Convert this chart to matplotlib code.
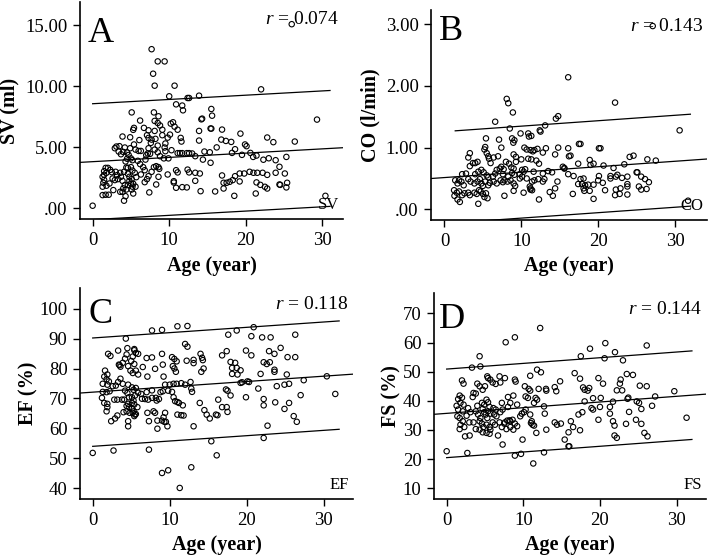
import numpy as np
import matplotlib
matplotlib.use("Agg")
import matplotlib.pyplot as plt
from matplotlib.ticker import FuncFormatter

plt.rcParams['font.family'] = ['Liberation Serif', 'DejaVu Serif']
plt.rcParams['mathtext.fontset'] = 'custom'
plt.rcParams['mathtext.it'] = 'Liberation Serif:italic'
plt.rcParams['mathtext.rm'] = 'Liberation Serif'

# (age, value) pairs
sv_points = [
    (0, 0.22), (26.0, 15.1), (7.7, 13.05), (8.5, 12.05), (9.4, 12.05), (7.9, 11.04), (8.1, 10.06), (10.7, 10.06),
    (22.0, 9.76), (10.0, 9.19), (12.4, 9.05), (12.6, 9.05), (13.9, 9.24), (10.9, 8.53), (11.7, 8.43), (11.8, 8.04),
    (15.5, 8.15), (15.6, 7.6), (5.1, 7.87), (8.0, 7.87), (8.6, 7.55), (6.2, 7.2), (8.1, 7.17), (8.5, 7.0), (8.8, 6.8),
    (9.1, 6.45), (10.2, 6.95), (10.5, 7.06), (10.7, 6.7), (14.2, 7.3), (14.3, 7.36), (6.7, 6.6), (7.3, 6.4), (5.3, 6.44),
    (5.4, 6.6), (8.1, 6.35), (11.1, 6.45), (9.1, 6.0), (10.1, 6.05), (13.9, 6.35), (15.4, 6.55), (3.9, 5.89), (4.9, 5.83),
    (6.1, 5.6), (7.1, 6.0), (7.3, 5.78), (7.7, 5.64), (8.2, 5.7), (9.8, 5.8), (11.5, 5.78), (11.6, 5.48), (13.9, 5.56),
    (7.6, 5.37), (8.5, 5.15), (9.5, 5.32), (5.4, 5.24), (3.1, 5.07), (2.9, 4.93), (3.5, 5.1), (4.2, 4.99), (4.9, 4.93),
    (5.6, 4.82), (4.0, 4.63), (4.5, 4.58), (4.7, 4.38), (3.4, 4.66), (3.7, 4.44), (6.0, 4.71), (6.3, 4.71), (7.3, 4.93),
    (8.1, 4.82), (8.5, 4.6), (9.4, 4.99), (9.5, 4.69), (10.3, 4.77), (11.1, 4.53), (11.4, 4.53), (11.7, 4.53), (12.3, 4.53),
    (12.6, 4.53), (7.2, 4.5), (7.5, 4.47), (8.8, 4.28), (9.3, 4.1), (9.9, 4.1), (5.0, 4.1), (5.2, 3.95), (4.5, 4.07),
    (4.3, 3.85), (5.9, 3.9), (6.2, 3.63), (7.0, 4.36), (6.9, 4.0), (13.4, 4.28), (14.6, 4.66), (15.4, 3.74), (1.7, 3.32),
    (2.0, 3.32), (2.3, 3.16), (1.5, 3.05), (1.8, 2.92), (1.5, 2.75), (2.5, 2.97), (3.0, 3.0), (3.2, 2.73), (3.6, 2.92),
    (4.1, 3.0), (4.4, 3.35), (4.6, 3.32), (5.0, 3.38), (5.2, 3.1), (4.6, 2.84), (4.8, 2.59), (5.1, 2.4), (5.5, 2.92),
    (5.7, 2.56), (1.3, 2.59), (1.5, 2.34), (1.4, 2.1), (1.3, 1.78), (1.8, 1.86), (2.2, 2.04), (2.6, 2.45), (2.9, 2.32),
    (3.3, 2.4), (3.7, 2.59), (3.9, 2.26), (4.2, 1.91), (4.6, 1.91), (4.0, 1.64), (4.8, 2.26), (5.0, 2.04), (5.2, 1.78),
    (5.1, 1.55), (5.3, 2.02), (5.6, 1.78), (3.6, 1.36), (3.9, 1.36), (4.4, 1.55), (1.3, 1.09), (1.7, 1.12), (2.1, 1.12),
    (2.7, 1.5), (5.3, 1.22), (4.3, 1.0), (4.1, 0.63), (6.3, 2.78), (6.6, 3.38), (6.8, 3.13), (7.3, 2.64), (7.1, 2.4),
    (7.7, 3.0), (8.0, 3.38), (8.3, 3.46), (8.6, 3.38), (8.7, 3.24), (6.8, 2.15), (7.4, 1.31), (8.6, 2.59), (8.3, 1.96),
    (9.8, 2.78), (10.9, 3.13), (11.1, 2.95), (12.4, 3.18), (12.6, 2.95), (10.6, 2.23), (10.6, 2.12), (10.9, 1.69),
    (11.7, 1.74), (12.3, 1.72), (13.4, 2.92), (14.0, 2.86), (13.4, 2.26), (14.1, 1.41),
    (15.5, 6.54), (16.9, 6.46), (16.8, 5.64), (17.4, 5.53), (18.1, 5.45), (19.3, 6.13), (19.9, 5.24), (20.1, 5.1),
    (22.8, 5.81), (23.6, 5.43), (26.4, 5.48), (18.6, 4.85), (18.2, 4.55), (19.5, 4.39), (20.6, 4.55), (20.96, 4.22),
    (21.4, 4.33), (22.3, 3.99), (23.0, 4.11), (23.9, 3.95), (25.3, 4.22), (24.4, 3.41), (16.9, 2.70), (18.6, 2.64),
    (19.2, 2.86), (19.8, 2.86), (20.5, 3.0), (21.0, 2.92), (21.5, 2.92), (22.2, 2.92), (22.8, 2.75), (23.9, 2.92),
    (25.1, 2.86), (17.1, 2.1), (17.5, 2.1), (17.9, 2.18), (18.3, 2.32), (19.2, 2.21), (21.4, 2.13), (21.9, 1.93),
    (22.5, 1.77), (22.8, 1.63), (24.4, 1.96), (24.5, 1.93), (25.4, 2.1), (25.3, 1.72), (16.0, 1.39), (17.1, 1.63),
    (18.5, 1.03), (21.3, 1.22), (30.4, 1.03), (29.3, 7.28), (16.2, 5.0), (15.3, 4.6), (14.4, 4.0), (13.0, 4.5),
]

co_points = [
    (16.1, 2.14), (8.1, 1.79), (8.3, 1.72), (8.9, 1.57), (6.6, 1.42), (8.5, 1.31), (14.5, 1.47), (14.8, 1.51),
    (13.1, 1.36), (12.4, 1.28), (12.5, 1.26), (5.4, 1.15), (7.1, 1.13), (8.8, 1.15), (9.1, 1.12), (8.96, 1.08),
    (9.9, 1.23), (10.9, 1.23), (11.3, 1.19), (10.99, 1.18), (7.4, 1.0), (5.3, 1.01), (5.2, 0.97), (5.5, 0.91),
    (5.7, 0.86), (5.8, 0.82), (3.3, 0.91), (3.1, 0.84), (3.7, 0.75), (4.0, 0.75), (4.3, 0.77), (3.3, 0.70), (6.0, 0.75),
    (6.4, 0.84), (6.97, 0.86), (8.0, 0.77), (8.4, 0.74), (9.0, 0.89), (9.3, 0.85), (10.4, 1.0), (10.7, 0.97),
    (11.2, 0.96), (11.5, 0.94), (11.7, 0.96), (12.1, 0.98), (12.8, 0.92), (13.2, 0.99), (14.8, 1.0), (14.4, 0.89),
    (16.1, 0.99), (16.2, 0.86), (10.0, 0.81), (10.9, 0.82), (11.3, 0.81), (11.95, 0.79), (12.3, 0.74), (9.3, 0.77),
    (8.7, 0.68), (9.0, 0.66), (7.4, 0.69), (7.7, 0.65), (6.8, 0.64), (7.2, 0.66), (10.1, 0.64), (10.3, 0.61),
    (10.5, 0.65), (11.6, 0.61), (12.8, 0.58), (13.5, 0.62), (14.0, 0.6), (15.4, 0.69), (15.6, 0.67), (2.3, 0.57),
    (2.8, 0.58), (4.0, 0.57), (4.4, 0.61), (4.8, 0.64), (5.1, 0.60), (5.5, 0.55), (5.7, 0.52), (6.3, 0.53), (6.6, 0.58),
    (7.6, 0.57), (8.3, 0.53), (8.8, 0.59), (9.1, 0.56), (9.8, 0.57), (1.4, 0.47), (1.9, 0.47), (1.7, 0.42), (2.2, 0.45),
    (2.5, 0.39), (3.1, 0.49), (3.4, 0.45), (3.9, 0.42), (4.3, 0.45), (4.6, 0.49), (4.8, 0.42), (5.0, 0.38), (5.3, 0.45),
    (5.7, 0.39), (5.9, 0.43), (6.4, 0.45), (6.8, 0.42), (7.3, 0.47), (7.6, 0.44), (7.8, 0.47), (8.2, 0.45), (8.6, 0.47),
    (9.0, 0.42), (9.2, 0.38), (9.8, 0.5), (10.1, 0.53), (10.7, 0.5), (11.4, 0.45), (11.2, 0.32), (11.1, 0.37),
    (11.4, 0.31), (11.7, 0.47), (12.2, 0.49), (12.8, 0.45), (13.0, 0.49), (14.7, 0.45), (14.4, 0.34), (14.1, 0.22),
    (1.25, 0.31), (1.6, 0.27), (1.9, 0.29), (1.3, 0.22), (1.7, 0.16), (2.0, 0.12), (2.3, 0.23), (2.6, 0.26), (3.1, 0.27),
    (3.3, 0.23), (3.9, 0.27), (4.2, 0.25), (4.5, 0.31), (4.7, 0.29), (5.0, 0.25), (5.2, 0.2), (5.4, 0.26), (5.6, 0.18),
    (4.4, 0.09), (7.8, 0.22), (9.0, 0.30), (10.3, 0.27), (11.2, 0.34), (12.3, 0.16), (13.7, 0.28),
    (27.1, 2.97), (22.2, 1.73), (30.6, 1.28), (16.4, 0.87), (17.5, 1.06), (17.7, 1.06), (20.1, 0.99), (20.3, 0.99),
    (24.1, 0.85), (24.6, 0.87), (26.4, 0.81), (27.5, 0.79), (17.4, 0.74), (18.9, 0.8), (19.4, 0.74), (19.0, 0.72),
    (20.7, 0.71), (22.0, 0.67), (23.4, 0.73), (15.6, 0.66), (16.1, 0.57), (16.8, 0.54), (17.7, 0.49), (18.1, 0.5),
    (17.4, 0.41), (17.9, 0.41), (18.3, 0.39), (18.1, 0.34), (18.2, 0.3), (18.9, 0.3), (18.7, 0.4), (19.4, 0.4),
    (20.1, 0.54), (20.0, 0.47), (20.6, 0.43), (21.6, 0.54), (21.6, 0.5), (22.3, 0.53), (22.5, 0.56), (23.1, 0.51),
    (23.8, 0.53), (23.8, 0.41), (23.8, 0.37), (25.0, 0.6), (25.1, 0.6), (25.6, 0.53), (26.1, 0.49), (26.6, 0.44),
    (25.3, 0.37), (25.6, 0.32), (26.3, 0.33), (20.9, 0.31), (22.3, 0.32), (22.9, 0.34), (22.2, 0.23), (22.8, 0.25),
    (23.8, 0.24), (19.4, 0.17), (16.7, 0.25), (31.7, 0.14),
]

ef_points = [
    (4.3, 90.0), (7.7, 92.7), (9.0, 92.9), (11.0, 94.1), (12.3, 94.2), (2.0, 84.9), (2.3, 84.2), (3.3, 86.0),
    (4.5, 86.8), (5.4, 86.5), (5.4, 86.1), (5.6, 85.2), (5.9, 84.9), (4.4, 84.7), (4.2, 83.3), (5.2, 84.0), (5.0, 82.5),
    (3.9, 81.9), (3.5, 81.1), (3.4, 81.3), (3.6, 80.6), (4.6, 80.8), (4.9, 79.3), (5.4, 81.5), (5.2, 78.5), (5.6, 79.3),
    (5.9, 78.0), (7.0, 83.5), (7.7, 83.7), (8.1, 79.9), (9.1, 81.3), (9.0, 84.9), (6.5, 80.5), (7.1, 77.3), (10.3, 83.8),
    (10.6, 83.2), (10.9, 82.4), (10.4, 80.8), (10.6, 80.0), (10.8, 78.9), (9.2, 77.3), (12.0, 88.2), (12.3, 87.3),
    (12.2, 82.6), (13.1, 82.9), (13.1, 81.8), (14.0, 84.9), (14.2, 83.6), (14.3, 82.8), (14.1, 78.9), (14.4, 80.0),
    (1.6, 79.3), (1.9, 78.0), (1.5, 77.3), (1.8, 76.4), (2.1, 75.7), (1.3, 74.9), (1.9, 74.6), (2.6, 74.1), (3.0, 74.3),
    (3.3, 75.5), (3.6, 76.6), (3.9, 74.9), (2.2, 72.4), (1.8, 72.1), (1.3, 72.2), (1.2, 70.2), (1.5, 68.5), (1.9, 68.2),
    (1.9, 67.1), (1.8, 65.7), (2.4, 62.4), (2.9, 63.3), (3.2, 64.3), (2.8, 69.6), (3.2, 69.6), (3.8, 69.6), (4.1, 69.6),
    (4.0, 65.4), (4.4, 65.7), (4.6, 68.2), (4.7, 67.1), (4.4, 67.5), (4.8, 65.2), (5.2, 65.2), (5.5, 64.6), (5.4, 64.1),
    (4.6, 74.6), (5.1, 73.7), (5.3, 72.9), (4.2, 72.6), (4.5, 71.8), (4.7, 70.4), (5.1, 70.4), (5.3, 69.3), (5.5, 71.0),
    (5.9, 71.9), (5.6, 73.5), (5.1, 68.5), (5.4, 68.0), (5.8, 67.1), (5.1, 66.6), (5.3, 65.7), (5.6, 64.8), (4.6, 62.4),
    (6.3, 71.5), (6.4, 69.9), (6.8, 69.8), (7.2, 69.6), (7.7, 70.2), (7.0, 72.1), (7.7, 72.7), (8.2, 70.2), (8.6, 69.8),
    (8.3, 69.3), (7.1, 65.2), (7.9, 65.7), (8.1, 65.2), (7.3, 62.4), (8.4, 62.6), (8.4, 59.9), (9.0, 62.6), (9.3, 62.2),
    (8.8, 72.1), (9.1, 72.4), (9.4, 74.6), (10.0, 74.6), (10.5, 74.9), (10.9, 74.9), (11.5, 75.1), (9.8, 72.6),
    (10.3, 72.2), (10.7, 69.1), (11.0, 68.8), (10.5, 70.4), (9.4, 65.2), (9.2, 63.7), (9.5, 62.2), (9.7, 60.7),
    (11.2, 68.5), (11.7, 67.7), (11.0, 64.6), (11.5, 64.4), (11.8, 64.3), (12.0, 74.6), (12.7, 75.5), (12.8, 73.3),
    (12.9, 72.2), (13.9, 68.5), (14.5, 66.1), (14.8, 64.6), (15.2, 63.3), (13.1, 60.7), (4.6, 60.7), (0.0, 51.8),
    (2.7, 52.6), (7.3, 52.9), (9.0, 45.1), (9.8, 46.0), (12.8, 47.0), (11.3, 40.1), (15.4, 55.7),
    (17.6, 91.3), (18.7, 92.7), (20.9, 93.8), (20.6, 90.8), (22.0, 90.4), (23.1, 90.4), (26.3, 91.3), (16.8, 84.4),
    (17.4, 85.8), (19.9, 86.0), (20.6, 84.4), (24.4, 86.9), (22.9, 85.8), (23.6, 84.9), (25.3, 83.8), (26.3, 83.8),
    (17.9, 82.2), (18.5, 81.9), (18.1, 80.2), (18.7, 80.2), (19.2, 79.4), (18.1, 78.2), (18.8, 78.0), (22.2, 82.1),
    (22.6, 81.5), (23.0, 82.1), (23.6, 79.6), (23.6, 78.9), (21.8, 78.2), (25.2, 78.0), (27.4, 76.1), (30.4, 77.4),
    (31.5, 71.5), (19.2, 75.2), (19.4, 75.4), (20.1, 75.7), (20.3, 75.5), (21.5, 73.3), (23.9, 74.1), (24.9, 74.6),
    (25.5, 74.9), (27.0, 71.1), (17.3, 73.0), (17.5, 72.6), (17.9, 71.0), (16.3, 69.6), (16.8, 67.1), (17.4, 67.1),
    (16.0, 64.6), (16.2, 64.4), (17.5, 65.5), (19.9, 70.4), (22.2, 69.8), (22.2, 67.7), (23.7, 68.7), (24.9, 66.5),
    (25.5, 68.5), (26.1, 64.1), (26.5, 62.2), (22.7, 60.9), (22.2, 56.8), (16.1, 51.0),
]

fs_points = [
    (12.2, 65.0), (7.7, 60.1), (8.9, 61.8), (4.3, 55.3), (3.3, 51.4), (4.4, 51.8), (11.8, 50.7), (12.3, 49.8),
    (2.0, 47.0), (2.2, 45.9), (5.3, 48.4), (5.4, 47.8), (5.7, 47.3), (6.9, 48.4), (7.6, 47.8), (8.9, 47.3), (9.0, 46.6),
    (4.0, 45.9), (4.3, 45.0), (3.5, 42.7), (3.8, 42.5), (3.4, 41.3), (4.7, 43.8), (5.0, 45.0), (6.0, 46.3), (6.4, 45.8),
    (10.2, 45.0), (10.7, 44.1), (10.9, 43.5), (10.3, 41.5), (10.6, 41.0), (11.6, 41.0), (11.8, 40.4), (11.4, 39.3),
    (12.0, 44.1), (10.9, 48.6), (8.0, 41.3), (8.7, 41.8), (7.0, 46.3), (9.2, 38.7), (1.7, 41.8), (1.5, 40.6),
    (2.0, 41.1), (1.8, 39.3), (2.2, 38.7), (1.3, 38.3), (1.5, 37.0), (2.1, 36.4), (2.8, 37.5), (3.1, 36.1), (2.6, 34.9),
    (1.4, 34.7), (1.7, 34.1), (2.1, 33.0), (1.8, 31.8), (1.7, 30.3), (2.3, 31.0), (2.4, 27.8), (3.0, 28.1),
    (2.96, 32.6), (3.5, 32.6), (3.8, 36.4), (4.1, 35.3), (4.4, 34.1), (4.0, 38.3), (4.6, 39.3), (4.9, 38.7),
    (5.2, 40.4), (5.4, 39.5), (5.6, 37.9), (4.7, 37.2), (4.9, 36.1), (5.1, 35.3), (5.4, 36.4), (5.7, 35.6), (5.3, 34.1),
    (4.3, 33.0), (4.6, 32.2), (4.8, 31.0), (5.2, 31.8), (5.6, 31.0), (5.7, 30.1), (4.7, 29.2), (5.2, 29.0), (5.6, 28.7),
    (3.8, 30.3), (4.3, 30.1), (6.1, 37.5), (6.4, 37.0), (6.2, 35.3), (6.5, 34.7), (6.0, 32.6), (6.3, 31.8), (7.0, 36.1),
    (7.3, 37.0), (7.2, 39.3), (8.0, 37.9), (8.3, 39.3), (6.9, 32.6), (7.2, 31.0), (7.5, 32.2), (6.7, 28.1), (7.6, 32.6),
    (7.9, 33.2), (8.2, 33.3), (8.3, 33.0), (7.8, 30.3), (8.3, 31.0), (8.7, 30.1), (8.6, 33.5), (8.9, 32.2), (9.2, 31.3),
    (9.6, 34.7), (9.8, 35.6), (10.1, 36.1), (10.3, 37.0), (10.9, 35.3), (11.1, 33.0), (11.0, 32.4), (11.2, 31.8),
    (11.4, 31.5), (9.9, 26.7), (7.3, 25.0), (12.7, 38.1), (12.8, 35.6), (11.7, 29.0), (13.0, 30.1), (14.1, 32.6),
    (14.4, 31.8), (14.9, 32.2), (12.96, 44.1), (13.0, 43.5), (14.1, 44.7), (14.3, 43.3), (14.8, 46.7), (0.0, 22.7),
    (2.7, 22.1), (8.9, 21.2), (9.7, 21.8), (11.3, 18.5), (12.7, 22.3), (16.0, 24.4),
    (18.7, 57.9), (20.7, 59.8), (21.96, 56.7), (26.1, 59.0), (17.5, 55.3), (20.6, 54.6), (23.0, 53.9), (16.7, 49.5),
    (17.4, 47.6), (19.8, 47.8), (20.4, 45.9), (17.8, 44.6), (18.0, 43.8), (18.6, 44.4), (18.4, 43.5), (22.7, 47.3),
    (22.6, 45.9), (23.5, 49.2), (24.3, 48.9), (22.2, 43.6), (22.9, 43.6), (25.2, 45.2), (26.1, 45.0), (29.7, 43.3),
    (18.0, 39.8), (19.1, 40.9), (20.1, 41.0), (18.9, 37.5), (19.1, 37.0), (20.0, 37.9), (21.7, 39.7), (23.6, 40.7),
    (23.7, 41.1), (24.8, 39.8), (25.1, 39.3), (25.4, 37.2), (27.2, 41.5), (26.8, 38.3), (17.2, 35.3), (17.7, 36.1),
    (19.8, 33.5), (21.3, 35.6), (21.3, 37.9), (23.8, 36.2), (24.7, 33.5), (25.4, 32.1), (21.7, 33.0), (21.9, 31.5),
    (23.4, 32.1), (16.2, 33.0), (16.5, 31.0), (15.9, 29.2), (17.4, 29.9), (25.8, 29.0), (26.2, 27.8), (21.9, 28.1),
    (22.2, 27.3), (31.3, 34.2), (15.4, 26.7), (15.9, 24.4),
]

# fitted line: intercept, slope, half width of the prediction band, age span of the band
panel_letters = ['A', 'B', 'C', 'D']
r_values = ['0.074', '0.143', '0.118', '0.144']
line_tags = ['SV', 'CO', 'EF', 'FS']
y_labels = ['SV (ml)', 'CO (l/min)', 'EF (%)', 'FS (%)']
fits = [(3.83, 0.035, 4.75), (0.515, 0.0088, 0.745), (72.1, 0.178, 18.1), (35.7, 0.195, 15.2)]
band_span = [(0, 31.0), (1.4, 32.0), (0, 32.0), (0, 32.0)]
y_ticks = [[0, 5, 10, 15], [0, 1, 2, 3], [40, 50, 60, 70, 80, 90, 100], [10, 20, 30, 40, 50, 60, 70]]
x_ticks = [0, 10, 20, 30]

all_points = [sv_points, co_points, ef_points, fs_points]
xlims = [(-1.65, 32.7), (-1.73, 34.2), (-1.65, 33.8), (-1.65, 33.8)]
ylims = [(-0.88, 16.9), (-0.173, 3.23), (36.4, 106.9), (6.3, 77.0)]
# axes boxes in figure fractions [left, bottom, width, height]
boxes = [[0.113, 0.608, 0.3715, 0.388], [0.609, 0.6064, 0.390, 0.3757],
         [0.113, 0.1073, 0.3856, 0.3775], [0.613, 0.1073, 0.3838, 0.3685]]
# panel letter positions in figure fractions (left, top)
letter_pos = [(88 / 708, 1 - 17 / 559), (439 / 708, 1 - 15 / 559), (88 / 708, 1 - 298 / 559), (439 / 708, 1 - 303 / 559)]
ylabel_pad = [4, 4, 1, 1]


def two_dec(v, pos):
    s = '%.2f' % v
    return s[1:] if s.startswith('0') else s


fig = plt.figure(figsize=(7.08, 5.59), dpi=100)

for i in range(4):
    ax = fig.add_axes(boxes[i])
    pts = np.array(all_points[i])
    ax.scatter(pts[:, 0], pts[:, 1], s=15, facecolors='none', edgecolors='black', linewidths=0.8, zorder=3)

    b0, b1, half = fits[i]
    xs = np.array(xlims[i])
    ax.plot(xs, b0 + b1 * xs, color='black', lw=0.9)
    xb = np.array(band_span[i])
    ax.plot(xb, b0 + b1 * xb + half, color='black', lw=0.9)
    ax.plot(xb, b0 + b1 * xb - half, color='black', lw=0.9)

    ax.set_xlim(xlims[i])
    ax.set_ylim(ylims[i])
    ax.set_xticks(x_ticks)
    ax.set_yticks(y_ticks[i])
    if i < 2:
        ax.yaxis.set_major_formatter(FuncFormatter(two_dec))

    for side in ['top', 'right']:
        ax.spines[side].set_visible(False)
    ax.spines['left'].set_linewidth(1.2)
    ax.spines['bottom'].set_linewidth(1.2)
    ax.tick_params(axis='both', direction='out', length=5, width=1.0, labelsize=13.5, pad=4)

    ax.set_xlabel('Age (year)', fontsize=14.5, fontweight='bold', labelpad=5)
    ax.set_ylabel(y_labels[i], fontsize=14.5, fontweight='bold', labelpad=ylabel_pad[i])

    fig.text(letter_pos[i][0], letter_pos[i][1], panel_letters[i], fontsize=26, va='top', ha='left')
    ax.text(0.985, 0.96, r'$\mathit{r}$ = ' + r_values[i], transform=ax.transAxes, fontsize=14,
            va='top', ha='right')
    ax.text(0.985, 0.03, line_tags[i], transform=ax.transAxes, fontsize=12, va='bottom', ha='right')

fig.savefig('out.png', dpi=100)
